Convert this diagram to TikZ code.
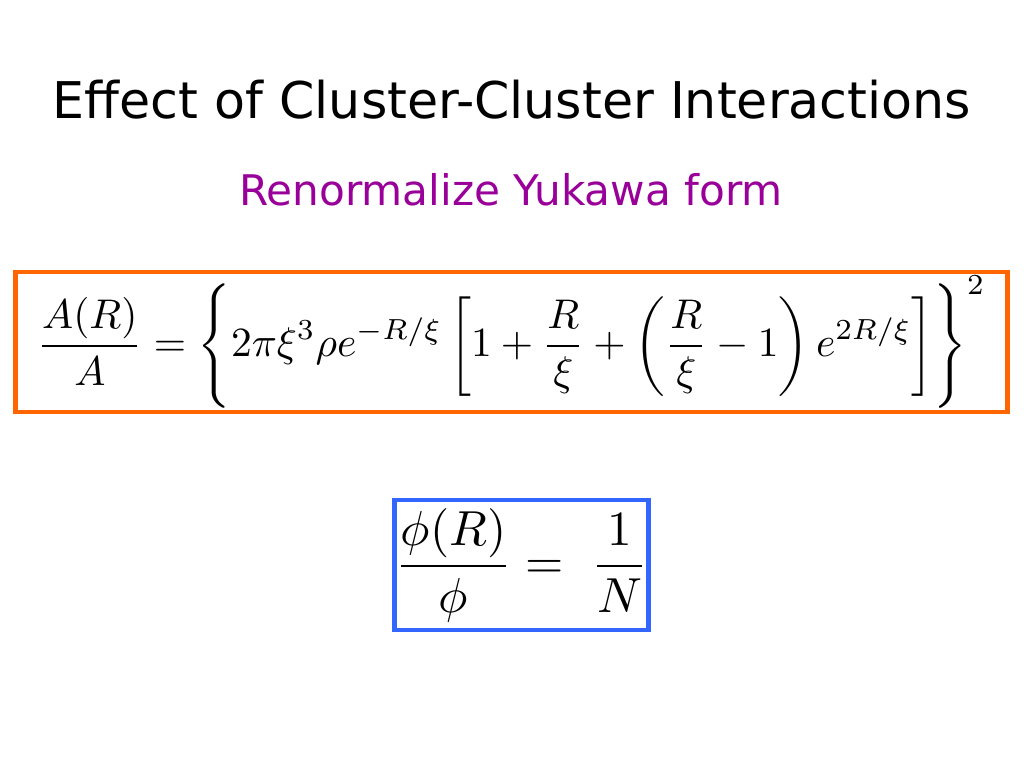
\documentclass[tikz,border=0pt]{standalone}
\usepackage{amsmath}
\usepackage{graphicx}
\usepackage{fontspec}
\setsansfont{DejaVu Sans}
\usepackage{tikz}
\definecolor{boxorange}{RGB}{255,102,0}
\definecolor{boxblue}{RGB}{51,102,255}
\definecolor{subpurple}{RGB}{153,0,153}
\begin{document}
\begin{tikzpicture}[x=0.025cm,y=-0.025cm,
                    eqbox/.style={draw,line width=3.5pt,inner sep=0pt}]

  \useasboundingbox (0,0) rectangle (1024,768);

  \node (title) at (512,100) {\sffamily\fontsize{36}{40}\selectfont Effect of Cluster-Cluster Interactions};
  \node[text=subpurple] (sub) at (511,190) {\sffamily\fontsize{30}{34}\selectfont Renormalize Yukawa form};

  \node[eqbox,draw=boxorange,minimum width=24.8cm,minimum height=3.5cm] (yuk) at (511.5,342)
    {\scalebox{2.95}{$\displaystyle \frac{A(R)}{A}=\Biggl\{2\pi\xi^3\rho e^{-R/\xi}\left[1+\frac{R}{\xi}+\left(\frac{R}{\xi}-1\right)e^{2R/\xi}\right]\Biggr\}^2$}};

  \node[eqbox,draw=boxblue,minimum width=6.32cm,minimum height=3.25cm] (phi) at (521.5,565)
    {\scalebox{3.5}{$\displaystyle \frac{\phi(R)}{\phi}=\;\frac{1}{N}$}};
\end{tikzpicture}
\end{document}
